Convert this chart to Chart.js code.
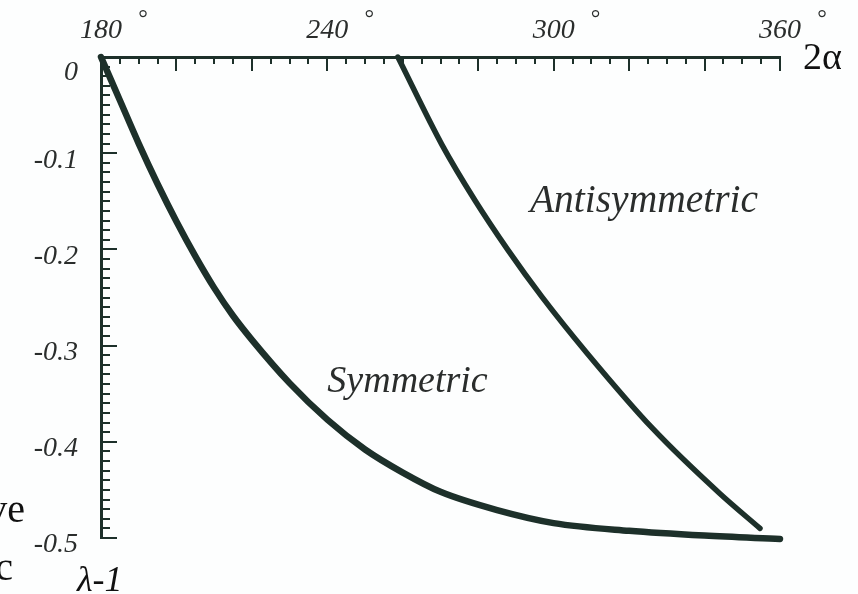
<!DOCTYPE html>
<html>
<head>
<meta charset="utf-8">
<title>λ-1 vs 2α</title>
<script src="https://cdn.jsdelivr.net/npm/chart.js@4.4.1/dist/chart.umd.min.js"></script>
<style>
  html, body { margin: 0; padding: 0; background: #fdfefe; }
  #wrap { width: 858px; height: 594px; }
</style>
</head>
<body>
<div id="wrap"><canvas id="lambdaChart" width="858" height="594"></canvas></div>
<script>
// wedge angle 2α (degrees) against eigenvalue offset λ-1
const symAngle   = [180, 185, 190, 195, 200, 205, 210, 215, 220, 230, 240, 250, 260, 270, 285, 300, 320, 340, 360];
const symLambda  = [0, -0.045, -0.09, -0.132, -0.171, -0.207, -0.24, -0.269, -0.294, -0.339, -0.377, -0.408, -0.432, -0.452, -0.471, -0.4845, -0.4925, -0.4975, -0.501];
const antiAngle  = [258.7, 270.4, 279.2, 287.9, 296.9, 308.8, 326.3, 344.1, 354.7];
const antiLambda = [0, -0.0913, -0.1494, -0.2007, -0.2493, -0.3076, -0.3864, -0.454, -0.49];

const angleLabels  = [180, 240, 300, 360];
const lambdaLabels = [0, -0.1, -0.2, -0.3, -0.4, -0.5];

const INK = "#1d302a";
const TEXT = "#2a2d2c";
const tickFont = { family: "Liberation Serif", size: 28, style: "italic" };

function toPoints(xs, ys) {
  return xs.map((x, i) => ({ x: x, y: ys[i] }));
}

// small inward tick marks on both axes, long ones on the major steps
const tickMarks = {
  id: "tickMarks",
  beforeDatasetsDraw(chart) {
    const ctx = chart.ctx;
    const xs = chart.scales.x, ys = chart.scales.y;
    const area = chart.chartArea;
    ctx.save();
    ctx.strokeStyle = INK;
    ctx.lineWidth = 2;
    ctx.beginPath();
    xs.ticks.forEach(t => {
      const px = Math.round(xs.getPixelForValue(t.value));
      const len = t.value % 20 === 0 ? 14 : 7;
      ctx.moveTo(px, area.top);
      ctx.lineTo(px, area.top + len);
    });
    ys.ticks.forEach(t => {
      const py = Math.round(ys.getPixelForValue(t.value));
      const major = Math.abs(t.value * 10 - Math.round(t.value * 10)) < 1e-6;
      ctx.moveTo(area.left, py);
      ctx.lineTo(area.left + (major ? 16 : 9), py);
    });
    ctx.stroke();
    ctx.restore();
  }
};

// degree signs, curve names and axis names
const annotations = {
  id: "annotations",
  afterDraw(chart) {
    const ctx = chart.ctx;
    const xs = chart.scales.x, ys = chart.scales.y;
    const area = chart.chartArea;
    ctx.save();

    ctx.fillStyle = TEXT;
    ctx.font = "24px 'Liberation Serif'";
    ctx.textAlign = "center";
    ctx.textBaseline = "alphabetic";
    angleLabels.forEach(v => {
      ctx.fillText("°", xs.getPixelForValue(v) + 42, 26);
    });

    ctx.textAlign = "left";
    ctx.font = "italic 38px 'Liberation Serif'";
    ctx.fillText("Symmetric", xs.getPixelForValue(240), ys.getPixelForValue(-0.348));
    ctx.font = "italic 39.5px 'Liberation Serif'";
    ctx.fillText("Antisymmetric", xs.getPixelForValue(293.7), ys.getPixelForValue(-0.161));

    ctx.fillStyle = "#111";
    ctx.font = "38px 'Liberation Serif'";
    ctx.fillText("2α", area.right + 23, 69);
    ctx.font = "italic 36px 'Liberation Serif'";
    ctx.fillText("λ-1", 77, area.bottom + 53);

    ctx.textAlign = "right";
    ctx.font = "40px 'Liberation Serif'";
    ctx.fillText("ve", 25, 522);
    ctx.fillText("c", 13, 580);
    ctx.restore();
  }
};

const ctx = document.getElementById("lambdaChart").getContext("2d");
const chart = new Chart(ctx, {
  type: "line",
  data: {
    datasets: [
      {
        label: "Symmetric",
        data: toPoints(symAngle, symLambda),
        borderColor: INK,
        borderWidth: 6.5,
        borderCapStyle: "round",
        pointRadius: 0,
        cubicInterpolationMode: "monotone",
        fill: false,
        clip: false
      },
      {
        label: "Antisymmetric",
        data: toPoints(antiAngle, antiLambda),
        borderColor: INK,
        borderWidth: 5.5,
        borderCapStyle: "round",
        pointRadius: 0,
        cubicInterpolationMode: "monotone",
        fill: false,
        clip: false
      }
    ]
  },
  options: {
    responsive: false,
    animation: false,
    layout: { padding: { left: 0, top: 0, right: 78, bottom: 56 } },
    plugins: {
      legend: { display: false },
      tooltip: { enabled: false }
    },
    scales: {
      x: {
        type: "linear",
        position: "top",
        min: 180,
        max: 360,
        grid: { display: false },
        border: { display: true, color: INK, width: 3 },
        afterFit: s => { s.height = 57; },
        ticks: {
          stepSize: 5,
          autoSkip: false,
          maxRotation: 0,
          padding: 2,
          color: TEXT,
          font: tickFont,
          callback: v => angleLabels.includes(v) ? String(v) : ""
        }
      },
      y: {
        type: "linear",
        position: "left",
        min: -0.5,
        max: 0,
        grid: { display: false },
        border: { display: true, color: INK, width: 3 },
        afterFit: s => { s.width = 101; },
        ticks: {
          stepSize: 0.01,
          autoSkip: false,
          padding: 15,
          labelOffset: 7,
          color: TEXT,
          // the "0" label sits a bit lower, under the corner of the axes
          font: c => (c.tick && c.tick.value === 0) ? { ...tickFont, lineHeight: 0.6 } : tickFont,
          callback: v => {
            const hit = lambdaLabels.find(l => Math.abs(l - v) < 1e-6);
            if (hit === undefined) return "";
            return hit === 0 ? ["", "0"] : hit.toFixed(1);
          }
        }
      }
    }
  },
  plugins: [tickMarks, annotations]
});
</script>
</body>
</html>
